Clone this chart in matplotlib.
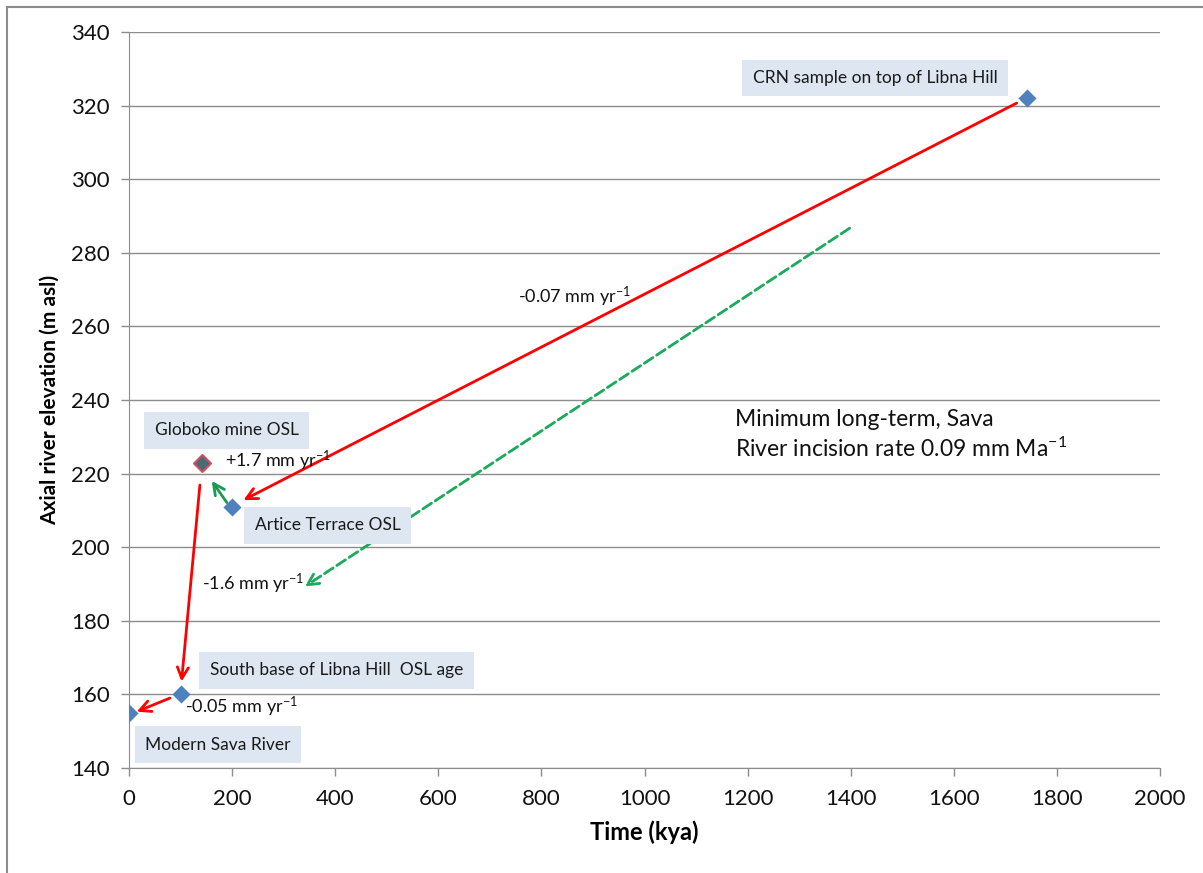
import matplotlib
matplotlib.use('Agg')
import matplotlib.pyplot as plt
from matplotlib.lines import Line2D

plt.rcParams['font.family'] = ['Lato', 'DejaVu Sans']
plt.rcParams['mathtext.fontset'] = 'custom'
plt.rcParams['mathtext.rm'] = 'Lato'
plt.rcParams['mathtext.it'] = 'Lato:italic'

# samples: time (kya) and axial river elevation (m asl)
names = ['Modern Sava River', 'South base of Libna Hill  OSL age', 'Globoko mine OSL',
         'Artice Terrace OSL', 'CRN sample on top of Libna Hill']
time_kya = [0, 100, 142, 200, 1742]
elev = [155, 160, 223, 211, 322]

# label boxes (x, y, ha)
label_x = [31, 157, 50, 244, 1447]
label_y = [146.3, 166.6, 231.8, 206, 327.5]
label_ha = ['left', 'left', 'left', 'left', 'center']

# arrows: start, end, colour, style
arr_start = [(1722, 320.7), (190, 212.1), (137.6, 216.9), (79.5, 159.0), (1398, 286.7)]
arr_end = [(222, 212.8), (160.6, 218.0), (102, 163.5), (15, 155.3), (341, 189.3)]
arr_col = ['#ff0000', '#1a9a50', '#ff0000', '#ff0000', '#1aaa5a']
arr_ls = ['-', '-', '-', '-', '--']

# rate labels
rates = ['-0.07 mm yr$^{-1}$', '+1.7 mm yr$^{-1}$', '-1.6 mm yr$^{-1}$', '-0.05 mm yr$^{-1}$']
rate_x = [754, 186, 141, 108]
rate_y = [268, 223.4, 190, 156.6]

fig = plt.figure(figsize=(12.03, 8.73), dpi=100)
ax = fig.add_axes([0.1072, 0.1203, 0.8571, 0.843])

for s, e, c, ls in zip(arr_start, arr_end, arr_col, arr_ls):
    ax.annotate('', xy=e, xytext=s,
                arrowprops=dict(arrowstyle='->,head_length=0.8,head_width=0.4', color=c,
                                lw=2, linestyle=ls, shrinkA=0, shrinkB=0), zorder=3)

ax.scatter(time_kya[:2] + time_kya[3:], elev[:2] + elev[3:], marker='D', s=85,
           color='#4f81bd', zorder=4, linewidths=0)
ax.scatter([time_kya[2]], [elev[2]], marker='D', s=75, facecolor='#4a6a7a',
           edgecolor='#d0505a', linewidths=1.5, zorder=4)

for n, x, y, ha in zip(names, label_x, label_y, label_ha):
    ax.text(x, y, n, ha=ha, va='center', fontsize=12.5, color='#1a1a1a', zorder=5,
            bbox=dict(boxstyle='square,pad=0.6', facecolor='#dde6f1', edgecolor='none'))

for r, x, y in zip(rates, rate_x, rate_y):
    ax.text(x, y, r, ha='left', va='center', fontsize=13, color='#111111', zorder=5)

ax.text(1175, 230.5, 'Minimum long-term, Sava\nRiver incision rate 0.09 mm Ma$^{-1}$',
        ha='left', va='center', fontsize=16.5, linespacing=1.3, color='#111111')

ax.set_xlim(0, 2000)
ax.set_ylim(140, 340)
ax.set_xticks(range(0, 2001, 200))
ax.set_yticks(range(140, 341, 20))
ax.grid(axis='y', color='#8c8c8c', lw=1)
ax.set_axisbelow(True)
for sp in ['top', 'right']:
    ax.spines[sp].set_visible(False)
for sp in ['left', 'bottom']:
    ax.spines[sp].set_color('#8c8c8c')
ax.tick_params(colors='#8c8c8c', labelcolor='#111111', labelsize=16, length=6, width=1)
ax.tick_params(axis='x', pad=9)
ax.tick_params(axis='y', pad=8)
ax.set_xlabel('Time (kya)', fontsize=17, fontweight='bold', labelpad=8)
ax.set_ylabel('Axial river elevation (m asl)', fontsize=15, fontweight='bold', labelpad=8)

fig.add_artist(Line2D([7 / 1203, 7 / 1203], [0, 1 - 7 / 873], transform=fig.transFigure,
                      color='#8c8c8c', lw=1.5))
fig.add_artist(Line2D([7 / 1203, 1], [1 - 7 / 873, 1 - 7 / 873], transform=fig.transFigure,
                      color='#8c8c8c', lw=1.5))

fig.savefig('out.png', dpi=100)
